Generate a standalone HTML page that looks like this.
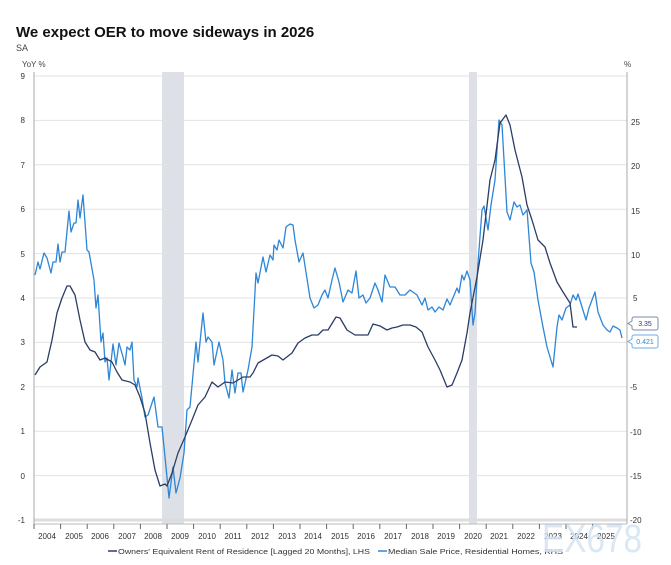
<!DOCTYPE html>
<html><head><meta charset="utf-8"><style>
body{margin:0;background:#fff;font-family:"Liberation Sans",Arial,sans-serif}
</style></head><body>
<svg width="671" height="560" xmlns="http://www.w3.org/2000/svg" font-family="Liberation Sans, Arial, sans-serif">
<rect width="671" height="560" fill="#fff"/>
<text x="16" y="37" font-size="15" font-weight="bold" fill="#111">We expect OER to move sideways in 2026</text>
<text x="16" y="51" font-size="9" fill="#444">SA</text>
<text x="22" y="67" font-size="8" fill="#444">YoY %</text>
<text x="624" y="67" font-size="8" fill="#444">%</text>
<rect x="162" y="72" width="22" height="452" fill="#dde0e6"/>
<rect x="469" y="72" width="8" height="452" fill="#dde0e6"/>
<g stroke="#e2e2e2" stroke-width="1">
<line x1="34" x2="627" y1="76" y2="76"/><line x1="34" x2="627" y1="120.4" y2="120.4"/>
<line x1="34" x2="627" y1="164.8" y2="164.8"/><line x1="34" x2="627" y1="209.2" y2="209.2"/>
<line x1="34" x2="627" y1="253.6" y2="253.6"/><line x1="34" x2="627" y1="298" y2="298"/>
<line x1="34" x2="627" y1="342.4" y2="342.4"/><line x1="34" x2="627" y1="386.8" y2="386.8"/>
<line x1="34" x2="627" y1="431.2" y2="431.2"/><line x1="34" x2="627" y1="475.6" y2="475.6"/>
<line x1="34" x2="627" y1="520" y2="520" stroke="#ddd" stroke-width="3"/>
</g>
<line x1="34" y1="72" x2="34" y2="524" stroke="#aaa"/>
<line x1="627" y1="72" x2="627" y2="524" stroke="#aaa"/>
<line x1="34" y1="524" x2="627" y2="524" stroke="#bbb"/>
<g font-size="8" fill="#333" text-anchor="end">
<text x="25" y="79">9</text><text x="25" y="123">8</text><text x="25" y="168">7</text><text x="25" y="212">6</text>
<text x="25" y="257">5</text><text x="25" y="301">4</text><text x="25" y="345">3</text><text x="25" y="390">2</text>
<text x="25" y="434">1</text><text x="25" y="479">0</text><text x="25" y="523">-1</text>
</g>
<g font-size="8" fill="#333">
<text x="631" y="125">25</text><text x="631" y="169">20</text><text x="631" y="214">15</text><text x="631" y="258">10</text>
<text x="633" y="301">5</text><text x="633" y="346">0</text><text x="630" y="390">-5</text><text x="630" y="435">-10</text>
<text x="630" y="479">-15</text><text x="630" y="523">-20</text>
</g>
<g stroke="#666" stroke-width="1">
<line x1="34" x2="34" y1="524" y2="529"/><line x1="60.6" x2="60.6" y1="524" y2="529"/><line x1="87.2" x2="87.2" y1="524" y2="529"/><line x1="113.8" x2="113.8" y1="524" y2="529"/><line x1="140.4" x2="140.4" y1="524" y2="529"/><line x1="167" x2="167" y1="524" y2="529"/><line x1="193.6" x2="193.6" y1="524" y2="529"/><line x1="220.2" x2="220.2" y1="524" y2="529"/><line x1="246.8" x2="246.8" y1="524" y2="529"/><line x1="273.4" x2="273.4" y1="524" y2="529"/><line x1="300" x2="300" y1="524" y2="529"/><line x1="326.6" x2="326.6" y1="524" y2="529"/><line x1="353.2" x2="353.2" y1="524" y2="529"/><line x1="379.8" x2="379.8" y1="524" y2="529"/><line x1="406.4" x2="406.4" y1="524" y2="529"/><line x1="433" x2="433" y1="524" y2="529"/><line x1="459.6" x2="459.6" y1="524" y2="529"/><line x1="486.2" x2="486.2" y1="524" y2="529"/><line x1="512.8" x2="512.8" y1="524" y2="529"/><line x1="539.4" x2="539.4" y1="524" y2="529"/><line x1="566" x2="566" y1="524" y2="529"/><line x1="592.6" x2="592.6" y1="524" y2="529"/>
</g>
<g font-size="8" fill="#333" text-anchor="middle">
<text x="47" y="539">2004</text><text x="74" y="539">2005</text><text x="100" y="539">2006</text><text x="127" y="539">2007</text><text x="153" y="539">2008</text><text x="180" y="539">2009</text><text x="207" y="539">2010</text><text x="233" y="539">2011</text><text x="260" y="539">2012</text><text x="287" y="539">2013</text><text x="313" y="539">2014</text><text x="340" y="539">2015</text><text x="366" y="539">2016</text><text x="393" y="539">2017</text><text x="420" y="539">2018</text><text x="446" y="539">2019</text><text x="473" y="539">2020</text><text x="499" y="539">2021</text><text x="526" y="539">2022</text><text x="553" y="539">2023</text><text x="579" y="539">2024</text><text x="606" y="539">2025</text>
</g>
<polyline fill="none" stroke="#2e86d6" stroke-width="1.3" stroke-linejoin="round" points="35,275 38,262 40,269 44,253 47,258 51,273 53,262 56,262 58,244 60,262 62,252 65,252 69,211 71,232 74,223 76,223 78,200 80,218 83,195 87,250 89,252 94,280 96,308 98,295 101,342 103,333 105,362 107,358 109,380 113,344 116,365 119,343 123,357 125,365 127,347 130,350 132,342 134,380 137,387 138,378 142,398 145,417 148,415 154,397 158,427 162,427 166,467 169,498 173,467 176,493 180,478 184,453 187,410 190,407 196,342 198,362 203,313 206,342 208,337 212,342 214,365 219,342 223,360 225,383 229,398 232,370 235,393 238,373 241,373 243,392 248,370 252,347 256,273 258,283 263,257 266,272 270,255 273,260 274,245 277,250 279,240 283,248 286,227 290,224 293,225 295,240 299,262 303,253 310,298 314,308 318,305 322,295 325,290 328,298 332,280 335,268 339,282 343,302 348,290 352,293 356,271 359,298 363,295 366,303 370,298 375,283 378,290 382,302 385,275 390,287 395,287 400,295 405,295 410,290 417,295 422,305 425,298 428,310 432,307 435,312 439,307 443,310 447,299 450,305 457,288 459,293 462,275 464,280 467,271 470,280 473,325 475,313 478,263 482,210 484,206 488,230 491,205 495,180 499,120 502,125 507,212 510,220 514,202 517,207 520,205 523,215 527,210 531,263 534,272 538,300 543,327 547,347 553,367 557,327 559,315 562,320 566,308 570,305 573,295 576,300 578,294 582,307 586,320 589,308 595,292 598,312 603,325 607,330 610,332 613,326 617,328 620,330 622,338"/>
<polyline fill="none" stroke="#2b3d66" stroke-width="1.3" stroke-linejoin="round" points="35,375 40,367 47,362 52,340 57,313 62,298 67,286 70,286 75,295 80,320 85,342 90,350 95,352 100,360 105,358 112,362 117,372 122,380 130,382 135,385 140,397 145,413 150,443 155,470 160,486 165,484 167,486 172,473 178,453 185,437 192,420 198,405 205,397 212,382 218,387 225,382 233,383 243,377 250,377 253,373 258,363 265,359 272,355 278,356 283,360 292,353 298,343 305,338 312,335 318,335 323,330 328,330 336,317 340,318 347,330 355,335 363,335 368,335 373,324 380,326 387,330 392,328 397,327 403,325 410,325 416,327 422,332 428,347 435,360 440,370 447,387 452,385 457,373 462,360 467,333 470,313 477,277 483,240 490,180 495,160 500,123 506,115 510,125 515,150 522,177 527,205 532,220 538,240 545,247 550,263 557,282 563,292 570,303 573,327 577,327"/>
<g font-size="7">
<path d="M634,317 h22 a2,2 0 0 1 2,2 v9 a2,2 0 0 1 -2,2 h-22 a2,2 0 0 1 -2,-2 v-2 l-4,-2.5 l4,-2.5 v-2 a2,2 0 0 1 2,-2z" fill="#fff" stroke="#7b8aa8"/>
<text x="645" y="326" text-anchor="middle" fill="#2b3d66">3.35</text>
<path d="M634,335 h22 a2,2 0 0 1 2,2 v9 a2,2 0 0 1 -2,2 h-22 a2,2 0 0 1 -2,-2 v-2 l-4,-2.5 l4,-2.5 v-2 a2,2 0 0 1 2,-2z" fill="#fff" stroke="#6aaee6"/>
<text x="645" y="344" text-anchor="middle" fill="#2e86d6">0.421</text>
</g>
<line x1="108" y1="551" x2="117" y2="551" stroke="#2b3d66" stroke-width="1.5"/>
<text x="118" y="554" font-size="7.5" fill="#333" textLength="252" lengthAdjust="spacingAndGlyphs">Owners' Equivalent Rent of Residence [Lagged 20 Months], LHS</text>
<line x1="378" y1="551" x2="387" y2="551" stroke="#2e86d6" stroke-width="1.5"/>
<text x="388" y="554" font-size="7.5" fill="#333" textLength="175" lengthAdjust="spacingAndGlyphs">Median Sale Price, Residential Homes, RHS</text>
<text x="542" y="552" font-size="40" fill="#d4e3f3" fill-opacity="0.85" textLength="100" lengthAdjust="spacingAndGlyphs">EX678</text>
</svg>
</body></html>
